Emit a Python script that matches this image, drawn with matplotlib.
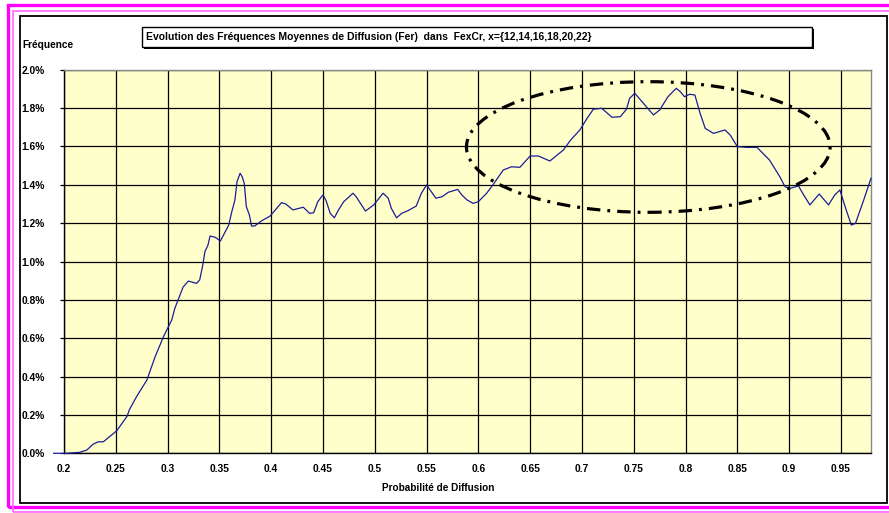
import matplotlib
matplotlib.use("Agg")
import matplotlib.pyplot as plt
from matplotlib.patches import Rectangle, Ellipse
from matplotlib.ticker import FuncFormatter, MultipleLocator

plt.rcParams['font.family'] = ['Liberation Sans', 'DejaVu Sans']
plt.rcParams['font.weight'] = 'bold'

# probability of diffusion (x) and mean frequency in % (y)
prob = [0.190, 0.203, 0.215, 0.222, 0.228, 0.233, 0.238, 0.244, 0.251, 0.261,
        0.263, 0.270, 0.280, 0.288, 0.296, 0.304, 0.307, 0.315, 0.320, 0.328,
        0.331, 0.334, 0.336, 0.339, 0.341, 0.346, 0.351, 0.354, 0.359, 0.362,
        0.365, 0.367, 0.370, 0.372, 0.374, 0.376, 0.379, 0.381, 0.384, 0.391,
        0.399, 0.404, 0.410, 0.414, 0.421, 0.431, 0.437, 0.441, 0.445, 0.450,
        0.453, 0.457, 0.461, 0.465, 0.470, 0.479, 0.482, 0.491, 0.499, 0.508,
        0.513, 0.516, 0.521, 0.526, 0.532, 0.540, 0.545, 0.550, 0.559, 0.565,
        0.571, 0.580, 0.584, 0.589, 0.595, 0.600, 0.608, 0.614, 0.624, 0.632,
        0.640, 0.650, 0.658, 0.669, 0.682, 0.689, 0.698, 0.705, 0.711, 0.719,
        0.729, 0.737, 0.743, 0.746, 0.751, 0.758, 0.769, 0.775, 0.783, 0.791,
        0.795, 0.799, 0.804, 0.809, 0.814, 0.819, 0.827, 0.838, 0.843, 0.850,
        0.859, 0.869, 0.881, 0.891, 0.896, 0.901, 0.909, 0.914, 0.920, 0.929,
        0.938, 0.944, 0.949, 0.954, 0.960, 0.964, 0.972, 0.979]
freq = [0.000, 0.000, 0.005, 0.017, 0.047, 0.060, 0.060, 0.087, 0.118, 0.194,
        0.226, 0.295, 0.382, 0.504, 0.608, 0.695, 0.756, 0.867, 0.898, 0.886,
        0.904, 0.982, 1.051, 1.086, 1.133, 1.126, 1.107, 1.138, 1.190, 1.260,
        1.321, 1.416, 1.460, 1.442, 1.408, 1.286, 1.242, 1.185, 1.185, 1.213,
        1.237, 1.269, 1.307, 1.300, 1.269, 1.283, 1.251, 1.254, 1.312, 1.347,
        1.317, 1.251, 1.228, 1.269, 1.312, 1.356, 1.338, 1.263, 1.295, 1.356,
        1.330, 1.277, 1.228, 1.251, 1.265, 1.289, 1.356, 1.399, 1.330, 1.338,
        1.361, 1.376, 1.347, 1.321, 1.303, 1.312, 1.356, 1.399, 1.477, 1.494,
        1.491, 1.550, 1.550, 1.524, 1.581, 1.633, 1.686, 1.747, 1.794, 1.799,
        1.752, 1.755, 1.794, 1.851, 1.877, 1.833, 1.764, 1.790, 1.859, 1.903,
        1.885, 1.859, 1.872, 1.868, 1.773, 1.694, 1.668, 1.686, 1.660, 1.599,
        1.595, 1.595, 1.529, 1.442, 1.390, 1.382, 1.394, 1.347, 1.295, 1.352,
        1.295, 1.347, 1.373, 1.286, 1.190, 1.199, 1.321, 1.434]

title = "Evolution des Fréquences Moyennes de Diffusion (Fer)  dans  FexCr, x={12,14,16,18,20,22}"

W, H = 889, 513
fig = plt.figure(figsize=(W / 100, H / 100), dpi=100)


def fx(x):
    return x / W


def fy(y):
    return 1 - y / H


# magenta double frame
fig.add_artist(Rectangle((fx(8), fy(507)), fx(900) - fx(8), fy(5) - fy(507),
                         transform=fig.transFigure, fill=False,
                         edgecolor='#ff00ff', linewidth=2.4, zorder=-3))
fig.add_artist(Rectangle((fx(13), fy(511.5)), fx(900) - fx(13), fy(11) - fy(511.5),
                         transform=fig.transFigure, fill=False,
                         edgecolor='#ff66ff', linewidth=1.2, zorder=-3))
# chart area border
fig.add_artist(Rectangle((fx(20), fy(503)), fx(887) - fx(20), fy(16) - fy(503),
                         transform=fig.transFigure, facecolor='white',
                         edgecolor='black', linewidth=1.3, zorder=-2))

# title box with shadow
fig.add_artist(Rectangle((fx(144), fy(48.5)), fx(814) - fx(144), fy(28.5) - fy(48.5),
                         transform=fig.transFigure, facecolor='black',
                         edgecolor='black', linewidth=0))
fig.add_artist(Rectangle((fx(142), fy(46.5)), fx(811.5) - fx(142), fy(26.5) - fy(46.5),
                         transform=fig.transFigure, facecolor='white',
                         edgecolor='black', linewidth=1.0))
fig.text(fx(146), fy(36.5), title, fontsize=7.5, fontweight='bold',
         ha='left', va='center')

fig.text(fx(22), fy(45), "Fréquence", fontsize=7.3, fontweight='bold',
         ha='left', va='center')

ax = fig.add_axes([fx(64), fy(453.3), fx(871) - fx(64), fy(69.7) - fy(453.3)])
ax.set_zorder(2)
ax.set_facecolor('#ffffcc')
ax.plot(prob, freq, color='#1c1c96', linewidth=0.9, clip_on=False, zorder=3)

ax.set_xlim(0.2, 0.979)
ax.set_ylim(0, 2.0)
ax.xaxis.set_major_locator(MultipleLocator(0.05))
ax.yaxis.set_major_locator(MultipleLocator(0.2))
ax.xaxis.set_major_formatter(FuncFormatter(lambda v, p: f"{v:g}"))
ax.yaxis.set_major_formatter(FuncFormatter(lambda v, p: f"{v:.1f}%"))
ax.grid(True, color='black', linewidth=0.9)
ax.set_axisbelow(True)
ax.tick_params(axis='both', labelsize=7.4, length=3, width=0.9, color='black')
ax.tick_params(axis='y', pad=10.8)
ax.tick_params(axis='x', pad=8, length=0)
for lab in ax.get_xticklabels() + ax.get_yticklabels():
    lab.set_fontweight('bold')
ax.spines['left'].set_color('black')
ax.spines['bottom'].set_color('black')
ax.spines['top'].set_color('#888888')
ax.spines['right'].set_color('#888888')
for s in ax.spines.values():
    s.set_linewidth(1.0)

# dash-dot ellipse around the maximum region
ax.add_patch(Ellipse((0.764, 1.597), 0.351, 0.681, fill=False,
                     edgecolor='black', linewidth=2.3,
                     linestyle=(0, (4.2, 2.2, 0.9, 2.2)), zorder=4))

fig.text(fx(438), fy(488), "Probabilité de Diffusion", fontsize=7.2,
         fontweight='bold', ha='center', va='center')

fig.savefig("out.png", dpi=100)
